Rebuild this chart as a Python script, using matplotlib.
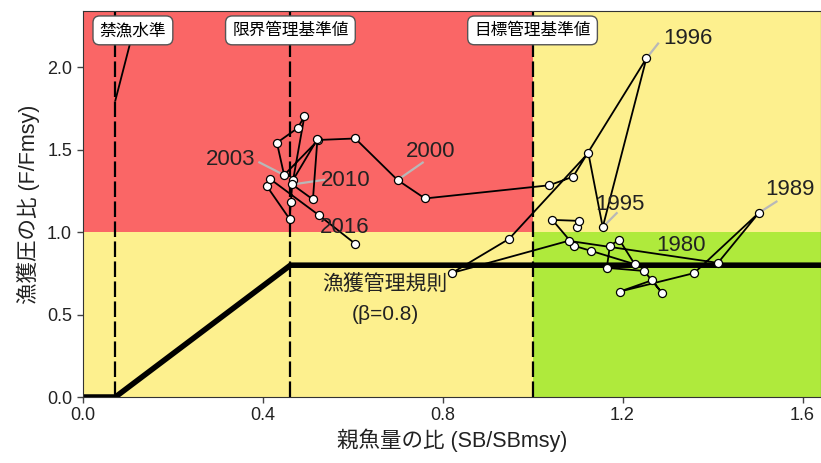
import numpy as np
import matplotlib
matplotlib.use('Agg')
import matplotlib.pyplot as plt

plt.rcParams['font.family'] = ['Liberation Sans', 'Noto Sans CJK JP', 'DejaVu Sans']

# kobe plot data: spawning biomass ratio and fishing mortality ratio by year
years = list(range(1975, 2017))
sb_ratio = [1.099, 1.103, 1.044, 1.093, 1.130, 1.227, 1.193, 1.172, 1.165, 1.248,
            1.288, 1.266, 1.194, 1.359, 1.503, 1.412, 1.080, 0.821, 0.948, 1.124,
            1.156, 1.253, 1.090, 1.037, 0.761, 0.700, 0.606, 0.524, 0.448, 0.432,
            0.478, 0.493, 0.468, 0.522, 0.512, 0.466, 0.463, 0.460, 0.409, 0.417,
            0.525, 0.606]
f_ratio = [1.031, 1.069, 1.075, 0.917, 0.887, 0.806, 0.954, 0.919, 0.784, 0.765,
           0.630, 0.709, 0.640, 0.752, 1.118, 0.814, 0.948, 0.753, 0.960, 1.481,
           1.031, 2.055, 1.337, 1.285, 1.205, 1.317, 1.569, 1.560, 1.347, 1.543,
           1.632, 1.703, 1.318, 1.565, 1.199, 1.290, 1.183, 1.081, 1.282, 1.323,
           1.104, 0.930]
label_years = [1980, 1989, 1995, 1996, 2000, 2003, 2010, 2016]

# reference points and harvest control rule
SB_BAN = 0.073
SB_LIMIT = 0.462
SB_TARGET = 1.0
BETA = 0.8
ref_names = ['禁漁水準', '限界管理基準値', '目標管理基準値']

XMAX = 1.641
YMAX = 2.342

RED = '#fa6666'
YELLOW = '#fdf08e'
GREEN = '#afea3c'

# label text position and start of the gray leader (None = no leader)
label_pos = {1980: (1.33, 0.92), 1989: (1.572, 1.26), 1995: (1.194, 1.17),
             1996: (1.346, 2.178), 2000: (0.773, 1.49), 2003: (0.330, 1.44),
             2010: (0.585, 1.312), 2016: (0.583, 1.027)}
leader_start = {1980: None, 1989: (1.542, 1.186), 1995: (1.187, 1.116),
                1996: (1.279, 2.145), 2000: (0.756, 1.423), 2003: (0.393, 1.424),
                2010: (0.537, 1.318), 2016: None}

fig = plt.figure(figsize=(8.21, 4.63), dpi=100)
ax = fig.add_axes([0.1005, 0.1425, 0.8995, 0.8335])

# zones
ax.axvspan(0, SB_TARGET, ymin=0, ymax=1.0 / YMAX, color=YELLOW, lw=0, zorder=0)
ax.axvspan(0, SB_TARGET, ymin=1.0 / YMAX, ymax=1, color=RED, lw=0, zorder=0)
ax.axvspan(SB_TARGET, XMAX, ymin=1.0 / YMAX, ymax=1, color=YELLOW, lw=0, zorder=0)
ax.axvspan(SB_TARGET, XMAX, ymin=0, ymax=1.0 / YMAX, color=GREEN, lw=0, zorder=0)

# reference lines
for xv in [SB_BAN, SB_LIMIT, SB_TARGET]:
    ax.axvline(xv, color='black', lw=1.6, ls=(0, (7, 2)), zorder=1)

# harvest control rule
hcr_x = np.array([0, SB_BAN, SB_LIMIT, XMAX])
hcr_y = np.array([0, 0, BETA, BETA])
ax.plot(hcr_x, hcr_y, color='black', lw=4, solid_capstyle='butt', zorder=2)
ax.text(0.672, 0.687, '漁獲管理規則', ha='center', va='center', fontsize=15,
        color='#222222')
ax.text(0.674, 0.498, '(β=0.8)', ha='center', va='center', fontsize=15,
        color='#222222')

# leaders under the points
for yr in label_years:
    i = years.index(yr)
    if leader_start[yr] is not None:
        lx, ly = leader_start[yr]
        ax.plot([lx, sb_ratio[i]], [ly, f_ratio[i]], color='#b8b8b8', lw=1.6,
                zorder=2.5)

# trajectory
ax.plot(sb_ratio, f_ratio, '-', color='black', lw=1.3, zorder=3,
        marker='o', markersize=5.8, markerfacecolor='white',
        markeredgecolor='black', markeredgewidth=0.9)

for yr in label_years:
    tx, ty = label_pos[yr]
    ax.text(tx, ty, str(yr), ha='center', va='center', fontsize=16,
            color='#222222', zorder=4)

# reference point labels
box = dict(boxstyle='round,pad=0.4', fc='white', ec='#555555', lw=1)
ax.plot([SB_BAN, 0.107], [1.80, 2.16], color='black', lw=1.3, zorder=4)
ax.text(0.112, 2.225, ref_names[0], ha='center', va='center',
        fontsize=12, bbox=box, zorder=5)
ax.text(SB_LIMIT, 2.225, ref_names[1], ha='center', va='center',
        fontsize=12, bbox=box, zorder=5)
ax.text(SB_TARGET, 2.225, ref_names[2], ha='center', va='center',
        fontsize=12, bbox=box, zorder=5)

ax.set_xlim(0, XMAX)
ax.set_ylim(0, YMAX)
ax.set_xticks([0.0, 0.4, 0.8, 1.2, 1.6])
ax.set_yticks([0.0, 0.5, 1.0, 1.5, 2.0])
ax.xaxis.set_major_formatter(matplotlib.ticker.FormatStrFormatter('%.1f'))
ax.yaxis.set_major_formatter(matplotlib.ticker.FormatStrFormatter('%.1f'))
ax.tick_params(labelsize=13, length=4, width=1, color='#444444',
               labelcolor='#222222')
ax.set_xlabel('親魚量の比 (SB/SBmsy)', fontsize=15.5, labelpad=3,
              color='#222222')
ax.set_ylabel('漁獲圧の比 (F/Fmsy)', fontsize=15.5, labelpad=5,
              color='#222222')
for sp in ax.spines.values():
    sp.set_color('#333333')

plt.savefig('out.png', dpi=100)
